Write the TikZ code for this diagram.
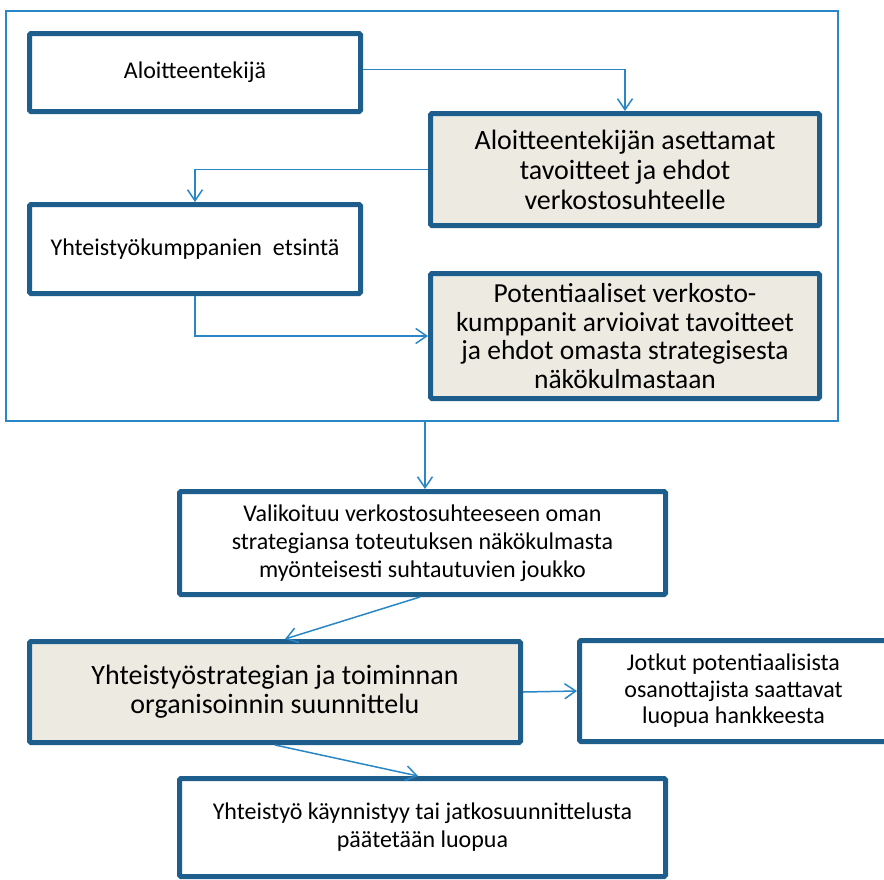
\documentclass[tikz,border=0pt]{standalone}
\usepackage{fontspec}
\setmainfont{Carlito}
\usetikzlibrary{arrows.meta}
\definecolor{boxblue}{HTML}{1D5E8D}
\definecolor{linkblue}{HTML}{2A87C6}
\definecolor{boxfill}{HTML}{EDEBE1}
\tikzset{
  box/.style={draw=boxblue, line width=5pt, rounded corners=1.5pt, fill=white,
    align=center, inner sep=0pt, text=black},
  hibox/.style={box, fill=boxfill},
  small/.style={font=\fontsize{24}{28}\selectfont},
  large/.style={font=\fontsize{28}{30}\selectfont},
  conn/.style={draw=linkblue, line width=1.5pt,
    -{Straight Barb[length=11pt,width=15pt]}},
}
\begin{document}
\begin{tikzpicture}[x=1pt,y=-1pt]
\useasboundingbox (0,0) rectangle (884,879);
\clip (0,0) rectangle (884,879);

% frame around the search phase
\node[draw=linkblue, line width=2pt, minimum width=832pt, minimum height=410pt,
  inner sep=0pt] (frame) at (422,216) {};

\node[box, small, minimum width=331pt, minimum height=78pt] (b1) at (195,72.5)
  {Aloitteentekijä};
\node[hibox, large, minimum width=389pt, minimum height=112pt] (b2) at (625,169.5)
  {Aloitteentekijän asettamat\\tavoitteet ja ehdot\\verkostosuhteelle};
\node[box, small, minimum width=331pt, minimum height=89pt] (b3) at (195,249)
  {Yhteistyökumppanien\ \ etsintä};
\node[hibox, font=\fontsize{27.5}{28.5}\selectfont,
  minimum width=389pt, minimum height=125pt] (b4) at (625,336)
  {Potentiaaliset verkosto-\\kumppanit arvioivat tavoitteet\\ja ehdot omasta strategisesta\\näkökulmastaan};

\coordinate (drop) at (425,422);

\node[box, small, minimum width=486pt, minimum height=103pt] (b5) at (422.5,543)
  {Valikoituu verkostosuhteeseen oman\\strategiansa toteutuksen näkökulmasta\\myönteisesti suhtautuvien joukko};
\node[hibox, font=\fontsize{28}{29}\selectfont,
  minimum width=491pt, minimum height=101pt] (b6) at (275,692)
  {Yhteistyöstrategian ja toiminnan\\organisoinnin suunnittelu};
\node[box, font=\fontsize{24}{26.5}\selectfont,
  minimum width=308pt, minimum height=101pt] (b7) at (733.5,691)
  {Jotkut potentiaalisista\\osanottajista saattavat\\luopua hankkeesta};
\node[box, small, minimum width=486pt, minimum height=98pt] (b8) at (422.5,827.5)
  {Yhteistyö käynnistyy tai jatkosuunnittelusta\\päätetään luopua};

% connectors
\draw[conn] ([yshift=3pt]b1.east) -| (b2.north);
\draw[conn] (b2.west) -| (b3.north);
\draw[conn] (b3.south) |- (b4.west);
\draw[conn] (drop) -- (drop |- b5.north);
\draw[conn] ([xshift=-2.5pt]b5.south) -- ([xshift=10pt]b6.north);
\draw[conn] (b6.east) -- (b7.west);
\draw[conn] (b6.south) -- ([xshift=-4.5pt]b8.north);
\end{tikzpicture}
\end{document}
